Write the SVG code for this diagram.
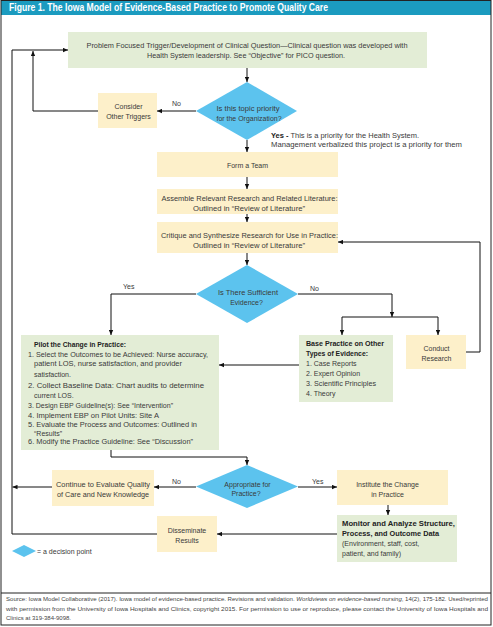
<svg xmlns="http://www.w3.org/2000/svg" width="493" height="627" viewBox="0 0 493 627">
<defs>
<style>
.t{font-family:"Liberation Sans",Arial,sans-serif;font-size:7px;fill:#3a3a3a}
.m{text-anchor:middle}
.b{font-weight:bold;fill:#222}
.g{fill:#e3edd6}
.y{fill:#fdf0ca}
.d{fill:#5cc3ee}
.c{fill:none;stroke:#111;stroke-width:1}
.f{font-family:"Liberation Sans",Arial,sans-serif;font-size:6px;fill:#444}
</style>
<marker id="ah" viewBox="0 0 6 6" refX="6" refY="3" markerWidth="5" markerHeight="5" orient="auto" markerUnits="userSpaceOnUse"><path d="M0,0.4 L6,3 L0,5.6 z" fill="#111"/></marker>
</defs>
<rect width="493" height="627" fill="#fff"/>
<g id="title">
<rect x="1" y="0" width="490" height="15" fill="#1b9bbf"/>
<text x="9" y="11" font-family="'Liberation Sans',Arial,sans-serif" font-size="10" font-weight="bold" fill="#fff" textLength="319" lengthAdjust="spacingAndGlyphs">Figure 1. The Iowa Model of Evidence-Based Practice to Promote Quality Care</text>
</g>
<rect x="1" y="0.5" width="490" height="624.5" fill="none" stroke="#222" stroke-width="1"/>
<line x1="1" y1="593" x2="491" y2="593" stroke="#222" stroke-width="1"/>

<g id="connectors">
<path class="c" d="M247,68 V82" marker-end="url(#ah)"/>
<path class="c" d="M196,111 H157" marker-end="url(#ah)"/>
<path class="c" d="M98,111 H33 V51" marker-end="url(#ah)"/>
<path class="c" d="M157,534 H12 V50 H68" marker-end="url(#ah)"/>
<path class="c" d="M52,487 H12.5" marker-end="url(#ah)"/>
<path class="c" d="M247,140 V152" marker-end="url(#ah)"/>
<path class="c" d="M247,177 V189" marker-end="url(#ah)"/>
<path class="c" d="M247,214 V222" marker-end="url(#ah)"/>
<path class="c" d="M247,253 V265" marker-end="url(#ah)"/>
<path class="c" d="M196,294 H111 V335" marker-end="url(#ah)"/>
<path class="c" d="M298,294 H392 V317" marker-end="url(#ah)"/>
<path class="c" d="M342,317 H438"/>
<path class="c" d="M342,317 V335" marker-end="url(#ah)"/>
<path class="c" d="M438,317 V335" marker-end="url(#ah)"/>
<path class="c" d="M466,352 H480 V242 H338" marker-end="url(#ah)"/>
<path class="c" d="M299,365 H219" marker-end="url(#ah)"/>
<path class="c" d="M111,450 V457 H247 V465" marker-end="url(#ah)"/>
<path class="c" d="M196,487 H154" marker-end="url(#ah)"/>
<path class="c" d="M298,487 H337" marker-end="url(#ah)"/>
<path class="c" d="M388,505 V515" marker-end="url(#ah)"/>
<path class="c" d="M337,534 H217" marker-end="url(#ah)"/>
</g>

<g id="trigger">
<rect class="g" x="68" y="32" width="359" height="36"/>
<text class="t m" x="247" y="47.5" textLength="321" lengthAdjust="spacingAndGlyphs">Problem Focused Trigger/Development of Clinical Question—Clinical question was developed with</text>
<text class="t m" x="246" y="57.5" textLength="198" lengthAdjust="spacingAndGlyphs">Health System leadership. See “Objective” for PICO question.</text>
</g>

<g id="priority">
<polygon class="d" points="247,82 297,111 247,140 196,111"/>
<text class="t m" x="248" y="110.5" textLength="63" lengthAdjust="spacingAndGlyphs">Is this topic priority</text>
<text class="t m" x="249" y="120.5" textLength="65" lengthAdjust="spacingAndGlyphs">for the Organization?</text>
</g>
<text class="t" x="172" y="105.5">No</text>
<text class="t" x="271" y="137.5" textLength="148" lengthAdjust="spacingAndGlyphs"><tspan class="b">Yes -</tspan> This is a priority for the Health System.</text>
<text class="t" x="271" y="146.5" textLength="191" lengthAdjust="spacingAndGlyphs">Management verbalized this project is a priority for them</text>

<g id="consider">
<rect class="y" x="98" y="93" width="59" height="35"/>
<text class="t m" x="128.5" y="108.5">Consider</text>
<text class="t m" x="128.5" y="118.5">Other Triggers</text>
</g>

<g id="team">
<rect class="y" x="157" y="152" width="181" height="25"/>
<text class="t m" x="247.5" y="168">Form a Team</text>
</g>

<g id="assemble">
<rect class="y" x="157" y="189" width="181" height="25"/>
<text class="t m" x="249.5" y="200.5" textLength="176" lengthAdjust="spacingAndGlyphs">Assemble Relevant Research and Related Literature:</text>
<text class="t m" x="249" y="210.5" textLength="112" lengthAdjust="spacingAndGlyphs">Outlined in “Review of Literature”</text>
</g>

<g id="critique">
<rect class="y" x="157" y="222" width="181" height="31"/>
<text class="t m" x="249.5" y="237.5" textLength="177" lengthAdjust="spacingAndGlyphs">Critique and Synthesize Research for Use in Practice:</text>
<text class="t m" x="249" y="247.5" textLength="112" lengthAdjust="spacingAndGlyphs">Outlined in “Review of Literature”</text>
</g>

<g id="sufficient">
<polygon class="d" points="247,265 298,294 247,323 196,294"/>
<text class="t m" x="248" y="294.5" textLength="60" lengthAdjust="spacingAndGlyphs">Is There Sufficient</text>
<text class="t m" x="246.5" y="304.5">Evidence?</text>
</g>
<text class="t" x="123" y="288.5">Yes</text>
<text class="t" x="310" y="290.5">No</text>

<g id="pilot">
<rect class="g" x="21" y="335" width="198" height="115"/>
<text class="t b" x="34" y="347" textLength="92" lengthAdjust="spacingAndGlyphs" font-size="7.5">Pilot the Change in Practice:</text>
<text class="t" x="28" y="356.5" textLength="180" lengthAdjust="spacingAndGlyphs">1. Select the Outcomes to be Achieved: Nurse accuracy,</text>
<text class="t" x="34" y="366" textLength="148" lengthAdjust="spacingAndGlyphs">patient LOS, nurse satisfaction, and provider</text>
<text class="t" x="34" y="376.5">satisfaction.</text>
<text class="t" x="28" y="388" textLength="176" lengthAdjust="spacingAndGlyphs">2. Collect Baseline Data: Chart audits to determine</text>
<text class="t" x="34" y="397.5">current LOS.</text>
<text class="t" x="28" y="407.5" textLength="145" lengthAdjust="spacingAndGlyphs">3. Design EBP Guideline(s): See “Intervention”</text>
<text class="t" x="28" y="417.5" textLength="131" lengthAdjust="spacingAndGlyphs">4. Implement EBP on Pilot Units: Site A</text>
<text class="t" x="28" y="426.5" textLength="169" lengthAdjust="spacingAndGlyphs">5. Evaluate the Process and Outcomes: Outlined in</text>
<text class="t" x="34" y="435.5">“Results”</text>
<text class="t" x="28" y="443.5" textLength="165" lengthAdjust="spacingAndGlyphs">6. Modify the Practice Guideline: See “Discussion”</text>
</g>

<g id="base">
<rect class="g" x="299" y="335" width="94" height="67"/>
<text class="t b" x="306" y="345.5" textLength="78" lengthAdjust="spacingAndGlyphs" font-size="7.5">Base Practice on Other</text>
<text class="t b" x="306" y="355.5" textLength="62" lengthAdjust="spacingAndGlyphs" font-size="7.5">Types of Evidence:</text>
<text class="t" x="306" y="365.5">1. Case Reports</text>
<text class="t" x="306" y="375.5">2. Expert Opinion</text>
<text class="t" x="306" y="385.5" textLength="70" lengthAdjust="spacingAndGlyphs">3. Scientific Principles</text>
<text class="t" x="306" y="395.5">4. Theory</text>
</g>

<g id="research">
<rect class="y" x="406" y="335" width="60" height="34"/>
<text class="t m" x="436.5" y="350.5">Conduct</text>
<text class="t m" x="436.5" y="360.5">Research</text>
</g>

<g id="appropriate">
<polygon class="d" points="247,465 298,486.5 247,508 196,486.5"/>
<text class="t m" x="247.5" y="486.5">Appropriate for</text>
<text class="t m" x="246" y="495.5">Practice?</text>
</g>
<text class="t" x="172" y="484">No</text>
<text class="t" x="312" y="484">Yes</text>

<g id="continue">
<rect class="y" x="52" y="470" width="102" height="36"/>
<text class="t m" x="103" y="486.5" textLength="94" lengthAdjust="spacingAndGlyphs">Continue to Evaluate Quality</text>
<text class="t m" x="103" y="496.5" textLength="92" lengthAdjust="spacingAndGlyphs">of Care and New Knowledge</text>
</g>

<g id="institute">
<rect class="y" x="337" y="470" width="111" height="35"/>
<text class="t m" x="387.5" y="486.5">Institute the Change</text>
<text class="t m" x="387.5" y="496.5">in Practice</text>
</g>

<g id="monitor">
<rect class="g" x="337" y="515" width="120" height="47"/>
<text class="t b" x="342" y="525.5" textLength="113" lengthAdjust="spacingAndGlyphs" font-size="7.5">Monitor and Analyze Structure,</text>
<text class="t b" x="342" y="535.5" textLength="97" lengthAdjust="spacingAndGlyphs" font-size="7.5">Process, and Outcome Data</text>
<text class="t" x="342" y="545.5">(Environment, staff, cost,</text>
<text class="t" x="342" y="555.5">patient, and family)</text>
</g>

<g id="disseminate">
<rect class="y" x="157" y="516" width="60" height="36"/>
<text class="t m" x="187" y="532.5">Disseminate</text>
<text class="t m" x="187" y="542.5">Results</text>
</g>

<g id="legend">
<polygon class="d" points="12,551 24,545 36,551 24,557"/>
<text class="t" x="37" y="553.5">= a decision point</text>
</g>

<g id="footer">
<text class="f" x="6" y="600.5" textLength="482" lengthAdjust="spacingAndGlyphs">Source: Iowa Model Collaborative (2017). Iowa model of evidence-based practice. Revisions and validation. <tspan font-style="italic">Worldviews on evidence-based nursing</tspan>, 14(2), 175-182. Used/reprinted</text>
<text class="f" x="6" y="610.5" textLength="482" lengthAdjust="spacingAndGlyphs">with permission from the University of Iowa Hospitals and Clinics, copyright 2015. For permission to use or reproduce, please contact the University of Iowa Hospitals and</text>
<text class="f" x="6" y="619.5">Clinics at 319-384-9098.</text>
</g>
</svg>
